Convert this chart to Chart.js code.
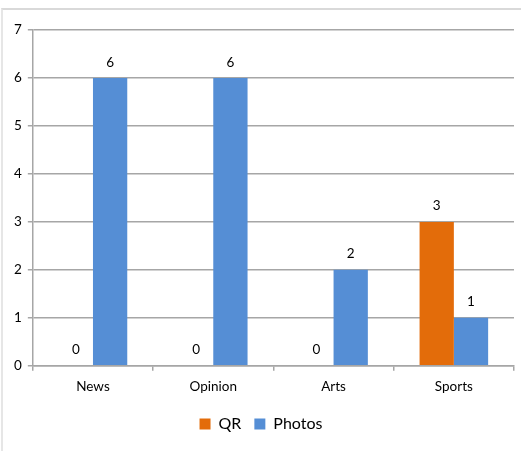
<!DOCTYPE html>
<html>
<head>
<meta charset="UTF-8">
<style>
    body { margin: 0; background: #fff; }
    #frame { position: absolute; left: 1px; top: 8px; width: 530px; height: 450px; border-top: 2px solid #d9d9d9; border-left: 2px solid #e6e6e6; }
    #wrap { position: absolute; left: 0; top: 0; width: 521px; height: 451px; }
</style>
</head>
<body>
<div id="frame"></div>
<div id="wrap">
    <canvas id="myChart" width="521" height="451"></canvas>
</div>

<script src="https://cdn.jsdelivr.net/npm/chart.js"></script>

<script>
    const categories = ['News', 'Opinion', 'Arts', 'Sports'];
    const qrValues = [0, 0, 0, 3];
    const photosValues = [6, 6, 2, 1];
    const yTicks = [0, 1, 2, 3, 4, 5, 6, 7];

    const fontName = 'Lato, "Open Sans", sans-serif';

    // подписи значений над столбиками
    const valueLabels = {
        id: 'valueLabels',
        afterDatasetsDraw(chart) {
            const ctx = chart.ctx;
            ctx.save();
            ctx.font = '13.5px ' + fontName;
            ctx.fillStyle = '#000';
            ctx.textAlign = 'center';
            ctx.textBaseline = 'bottom';
            chart.data.datasets.forEach((ds, i) => {
                chart.getDatasetMeta(i).data.forEach((bar, j) => {
                    ctx.fillText(ds.data[j], bar.x, bar.y - 9);
                });
            });
            ctx.restore();
        }
    };

    function chart() {
        const ctx = document.getElementById('myChart');
        new Chart(ctx, {
            type: 'bar',
            data: {
                labels: categories,
                datasets: [{
                    label: 'QR',
                    data: qrValues,
                    backgroundColor: '#e36c0a'
                }, {
                    label: 'Photos',
                    data: photosValues,
                    backgroundColor: '#558ed5'
                }]
            },
            options: {
                responsive: false,
                animation: false,
                layout: {
                    padding: { left: 8, right: 7, top: 30, bottom: 9 }
                },
                datasets: {
                    bar: {
                        categoryPercentage: 0.57,
                        barPercentage: 1
                    }
                },
                scales: {
                    y: {
                        min: 0,
                        max: 7,
                        afterBuildTicks: axis => {
                            axis.ticks = yTicks.map(v => ({ value: v }));
                        },
                        grid: {
                            color: '#a6a6a6',
                            lineWidth: 1.5,
                            tickLength: 5
                        },
                        border: { color: '#a6a6a6', width: 1.5 },
                        ticks: {
                            color: '#000',
                            padding: 6,
                            font: { family: fontName, size: 13.5 }
                        }
                    },
                    x: {
                        grid: {
                            offset: true,
                            drawOnChartArea: false,
                            color: '#a6a6a6',
                            lineWidth: 1.5,
                            tickLength: 5
                        },
                        border: { color: '#a6a6a6', width: 1.5 },
                        ticks: {
                            color: '#000',
                            padding: 8,
                            font: { family: fontName, size: 13.5 }
                        }
                    }
                },
                plugins: {
                    legend: {
                        position: 'bottom',
                        labels: {
                            color: '#000',
                            boxWidth: 11,
                            boxHeight: 11,
                            padding: 13,
                            font: { family: fontName, size: 16 }
                        }
                    },
                    tooltip: { enabled: false }
                }
            },
            plugins: [valueLabels]
        });
    }

    chart();
</script>
</body>
</html>
